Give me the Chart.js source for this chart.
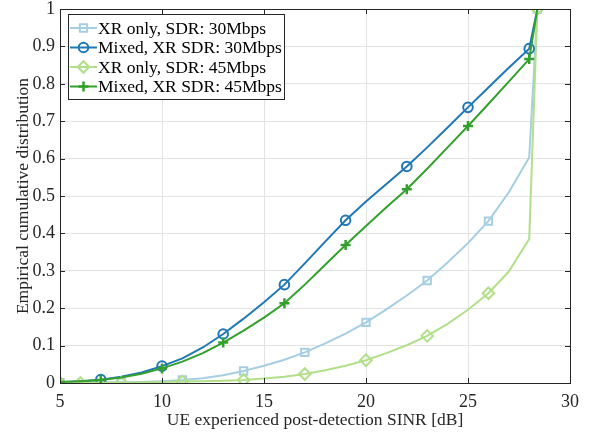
<!DOCTYPE html>
<html>
<head>
<meta charset="utf-8">
<script src="https://cdn.jsdelivr.net/npm/chart.js@4.4.1/dist/chart.umd.min.js"></script>
<style>
html, body { margin: 0; padding: 0; background: #fff; }
</style>
</head>
<body>
<canvas id="sinrCdf" width="593" height="434"></canvas>
<script>
// SINR grid [dB], last point is where every CDF reaches 1
var sinr = [5, 6, 7, 8, 9, 10, 11, 12, 13, 14, 15, 16, 17, 18, 19, 20, 21, 22, 23, 24, 25, 26, 27, 28, 28.4];

var xrOnly30 = [0.001, 0.001, 0.002, 0.002, 0.003, 0.005, 0.008, 0.013, 0.021, 0.032, 0.046, 0.062, 0.082, 0.106, 0.132, 0.162, 0.197, 0.234, 0.274, 0.322, 0.374, 0.433, 0.51, 0.603, 1.0];
var mixed30  = [0.002, 0.005, 0.009, 0.017, 0.028, 0.045, 0.066, 0.095, 0.131, 0.172, 0.216, 0.263, 0.32, 0.378, 0.435, 0.485, 0.532, 0.579, 0.63, 0.683, 0.737, 0.79, 0.843, 0.894, 1.0];
var xrOnly45 = [0.0, 0.0, 0.001, 0.001, 0.002, 0.003, 0.004, 0.005, 0.006, 0.008, 0.012, 0.017, 0.024, 0.034, 0.046, 0.061, 0.08, 0.101, 0.126, 0.158, 0.196, 0.24, 0.298, 0.385, 1.0];
var mixed45  = [0.003, 0.005, 0.008, 0.015, 0.025, 0.039, 0.057, 0.08, 0.108, 0.14, 0.175, 0.213, 0.263, 0.316, 0.369, 0.42, 0.47, 0.518, 0.573, 0.63, 0.687, 0.746, 0.806, 0.866, 1.0];

// where each curve carries a marker
var xrOnly30Marks = [5, 8, 11, 14, 17, 20, 23, 26, 28.4];
var mixed30Marks  = [7, 10, 13, 16, 19, 22, 25, 28];
var xrOnly45Marks = [5, 6, 8, 11, 14, 17, 20, 23, 26, 28.4];
var mixed45Marks  = [5, 7, 10, 13, 16, 19, 22, 25, 28];

var seriesNames = ['XR only, SDR: 30Mbps', 'Mixed, XR SDR: 30Mbps', 'XR only, SDR: 45Mbps', 'Mixed, XR SDR: 45Mbps'];
var xTicks = [5, 10, 15, 20, 25, 30];

var serif = 'Liberation Serif, Times New Roman, serif';
var axisInk = '#262626';
var markR = { rect: 5.2, circle: 4.8, rectRot: 5.8, cross: 5 };

function pts(ys) {
    return sinr.map(function (x, i) { return { x: x, y: ys[i] }; });
}

function markAt(list, r) {
    return function (c) { return list.indexOf(c.raw.x) >= 0 ? r : 0; };
}

function makeSet(label, ys, marks, color, style, order) {
    return {
        label: label,
        data: pts(ys),
        borderColor: color,
        borderWidth: 2,
        pointStyle: style,
        pointRadius: markAt(marks, markR[style]),
        pointHoverRadius: markAt(marks, markR[style]),
        pointBorderColor: color,
        pointBackgroundColor: 'rgba(0,0,0,0)',
        pointBorderWidth: style === 'cross' ? 2.5 : 2,
        tension: 0,
        fill: false,
        order: order
    };
}

var sets = [
    makeSet(seriesNames[0], xrOnly30, xrOnly30Marks, '#a6cee3', 'rect', 4),
    makeSet(seriesNames[1], mixed30, mixed30Marks, '#1f78b4', 'circle', 3),
    makeSet(seriesNames[2], xrOnly45, xrOnly45Marks, '#b2df8a', 'rectRot', 2),
    makeSet(seriesNames[3], mixed45, mixed45Marks, '#33a02c', 'cross', 1)
];

// box around the axes, inward ticks on all four sides, and the legend inside
var matlabFrame = {
    id: 'matlabFrame',
    afterDatasetsDraw: function (chart) {
        var ctx = chart.ctx, a = chart.chartArea;
        var xs = chart.scales.x, ys = chart.scales.y;
        ctx.save();
        ctx.strokeStyle = axisInk;
        ctx.lineWidth = 1;
        ctx.strokeRect(a.left + 0.5, a.top + 0.5, a.right - a.left, a.bottom - a.top);
        ctx.beginPath();
        xs.ticks.forEach(function (t) {
            var px = Math.round(xs.getPixelForValue(t.value)) + 0.5;
            ctx.moveTo(px, a.bottom); ctx.lineTo(px, a.bottom - 5);
            ctx.moveTo(px, a.top); ctx.lineTo(px, a.top + 5);
        });
        ys.ticks.forEach(function (t) {
            var py = Math.round(ys.getPixelForValue(t.value)) + 0.5;
            ctx.moveTo(a.left, py); ctx.lineTo(a.left + 5, py);
            ctx.moveTo(a.right, py); ctx.lineTo(a.right - 5, py);
        });
        ctx.stroke();

        // legend
        var bx = 68, by = 14, bw = 216, bh = 85, rowH = 19.5;
        ctx.fillStyle = '#fff';
        ctx.fillRect(bx, by, bw, bh);
        ctx.strokeStyle = axisInk;
        ctx.strokeRect(bx + 0.5, by + 0.5, bw, bh);
        ctx.font = '17.5px ' + serif;
        ctx.textBaseline = 'middle';
        chart.data.datasets.forEach(function (ds, i) {
            var cy = by + 14 + i * rowH;
            ctx.strokeStyle = ds.borderColor;
            ctx.lineWidth = 2;
            ctx.beginPath();
            ctx.moveTo(bx + 2, cy); ctx.lineTo(bx + 29, cy);
            ctx.stroke();
            ctx.fillStyle = 'rgba(0,0,0,0)';
            ctx.lineWidth = ds.pointBorderWidth;
            Chart.helpers.drawPoint(ctx, { pointStyle: ds.pointStyle, radius: markR[ds.pointStyle], borderWidth: ds.pointBorderWidth, rotation: 0 }, bx + 15.5, cy);
            ctx.fillStyle = '#000';
            ctx.fillText(ds.label, bx + 30, cy + 1);
        });
        ctx.restore();
    }
};

var cdfChart = new Chart(document.getElementById('sinrCdf').getContext('2d'), {
    type: 'line',
    data: { datasets: sets },
    options: {
        responsive: false,
        animation: false,
        events: [],
        layout: { padding: { left: 0, right: 23, top: 9, bottom: 0 } },
        plugins: { legend: { display: false }, tooltip: { enabled: false } },
        scales: {
            x: {
                type: 'linear',
                min: 5,
                max: 30,
                afterBuildTicks: function (s) { s.ticks = xTicks.map(function (v) { return { value: v }; }); },
                afterFit: function (s) { s.height = 51; },
                grid: { color: '#e3e3e3', drawTicks: false },
                border: { display: false },
                ticks: { color: axisInk, font: { family: serif, size: 18, lineHeight: 1 }, padding: 10, maxRotation: 0 },
                title: { display: true, text: 'UE experienced post-detection SINR [dB]', color: axisInk, font: { family: serif, size: 17.5, lineHeight: 1 }, padding: { top: 0, bottom: 5 } }
            },
            y: {
                min: 0,
                max: 1,
                afterFit: function (s) { s.width = 60; s.paddingTop = 0; s.paddingBottom = 0; },
                grid: { color: '#e3e3e3', drawTicks: false },
                border: { display: false },
                ticks: { stepSize: 0.1, color: axisInk, font: { family: serif, size: 18, lineHeight: 1 }, padding: 5,
                         callback: function (v) { return Math.round(v * 10) / 10; } },
                title: { display: true, text: 'Empirical cumulative distribution', color: axisInk, font: { family: serif, size: 17.5, lineHeight: 1 }, padding: { top: 15, bottom: 0 } }
            }
        }
    },
    plugins: [matlabFrame]
});
</script>
</body>
</html>
